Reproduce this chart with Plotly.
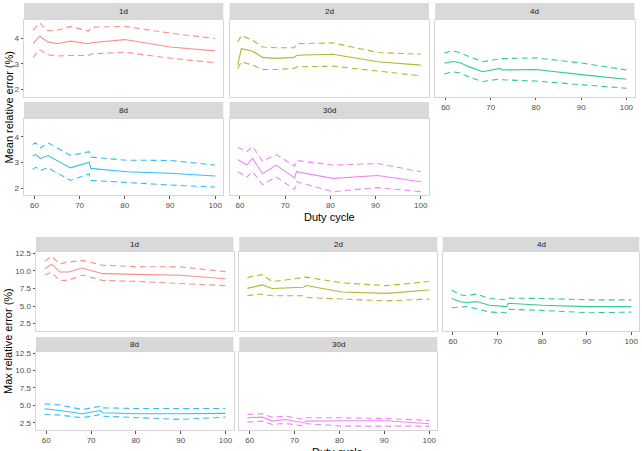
import plotly.graph_objects as go

# ---------------- data ----------------
WINDOWS = ["1d", "2d", "4d", "8d", "30d"]
COLORS = ["#F8766D", "#A3A500", "#00BF7D", "#00B0F6", "#E76BF3"]

duty_1d = [59.7, 61.2, 63.0, 65.0, 68.0, 72.0, 72.6, 80.0, 90.0, 100.0]
duty_2d = [59.5, 60.3, 62.8, 65.0, 68.0, 72.0, 72.6, 80.5, 90.5, 100.0]
duty_4d = [59.7, 61.6, 63.1, 65.3, 68.2, 72.0, 72.4, 80.0, 90.5, 100.0]
duty_8d = [59.6, 60.3, 61.3, 63.0, 68.0, 72.1, 72.5, 80.4, 90.0, 100.0]
duty_30d = [59.5, 61.5, 62.8, 65.0, 68.0, 72.1, 72.5, 80.5, 90.5, 100.0]

# Mean relative error (%)
mean_1d = [3.78, 4.07, 3.85, 3.78, 3.88, 3.78, 3.82, 3.94, 3.65, 3.50]
mean_1d_hi = [4.30, 4.58, 4.28, 4.30, 4.45, 4.27, 4.42, 4.45, 4.19, 3.98]
mean_1d_lo = [3.25, 3.55, 3.35, 3.30, 3.32, 3.32, 3.38, 3.45, 3.22, 3.04]
mean_2d = [2.95, 3.59, 3.49, 3.25, 3.21, 3.25, 3.33, 3.37, 3.08, 2.95]
mean_2d_hi = [3.85, 4.10, 3.91, 3.65, 3.62, 3.62, 3.78, 3.81, 3.44, 3.37]
mean_2d_lo = [2.82, 3.08, 2.95, 2.78, 2.78, 2.82, 2.88, 2.91, 2.72, 2.53]
mean_4d = [3.02, 3.09, 3.05, 2.88, 2.69, 2.82, 2.76, 2.78, 2.57, 2.40]
mean_4d_hi = [3.42, 3.50, 3.44, 3.27, 3.08, 3.21, 3.20, 3.23, 3.02, 2.76]
mean_4d_lo = [2.60, 2.69, 2.65, 2.48, 2.31, 2.41, 2.38, 2.33, 2.18, 2.05]
mean_8d = [3.25, 3.31, 3.16, 3.27, 2.79, 3.01, 2.77, 2.64, 2.58, 2.47]
mean_8d_hi = [3.70, 3.77, 3.57, 3.77, 3.28, 3.42, 3.21, 3.09, 3.08, 2.90]
mean_8d_lo = [2.73, 2.82, 2.69, 2.79, 2.30, 2.56, 2.30, 2.21, 2.12, 2.04]
mean_30d = [3.12, 2.90, 3.16, 2.56, 2.90, 2.40, 2.64, 2.38, 2.49, 2.25]
mean_30d_hi = [3.60, 3.42, 3.63, 3.05, 3.31, 2.86, 3.08, 2.90, 2.96, 2.64]
mean_30d_lo = [2.64, 2.43, 2.64, 2.14, 2.43, 1.95, 2.25, 1.86, 2.02, 1.86]

# Max relative error (%)
max_1d = [10.30, 10.95, 9.83, 9.83, 10.41, 9.75, 9.60, 9.50, 9.38, 8.88]
max_1d_hi = [11.40, 12.05, 11.00, 11.24, 11.49, 10.90, 10.80, 10.60, 10.56, 9.89]
max_1d_lo = [9.40, 9.79, 8.63, 8.67, 9.40, 8.70, 8.63, 8.50, 8.20, 7.90]
max_2d = [7.51, 7.65, 8.00, 7.50, 7.55, 7.66, 7.91, 7.00, 6.80, 7.28]
max_2d_hi = [8.97, 9.20, 9.46, 8.49, 8.70, 8.97, 9.11, 8.30, 7.90, 8.49]
max_2d_lo = [6.46, 6.55, 6.70, 6.46, 6.46, 6.46, 6.21, 5.98, 5.73, 5.98]
max_4d = [6.07, 5.60, 5.50, 5.63, 5.11, 4.91, 5.40, 5.11, 4.91, 4.91]
max_4d_hi = [7.28, 6.60, 6.46, 6.70, 6.07, 5.88, 6.12, 6.07, 5.88, 5.88]
max_4d_lo = [4.76, 4.85, 4.91, 4.62, 4.14, 4.04, 4.53, 4.38, 4.04, 4.14]
max_8d = [4.50, 4.45, 4.40, 4.25, 3.79, 4.26, 3.93, 3.79, 3.79, 3.85]
max_8d_hi = [5.21, 5.18, 5.12, 5.05, 4.40, 4.87, 4.64, 4.54, 4.54, 4.54]
max_8d_lo = [3.69, 3.67, 3.64, 3.60, 3.21, 3.69, 3.44, 3.21, 2.97, 3.30]
max_30d = [3.21, 3.25, 3.30, 2.73, 2.97, 2.50, 2.73, 2.79, 2.79, 2.36]
max_30d_hi = [3.69, 3.75, 3.79, 3.30, 3.44, 2.97, 3.21, 3.21, 3.10, 2.83]
max_30d_lo = [2.59, 2.66, 2.73, 2.26, 2.40, 2.01, 2.36, 2.01, 2.01, 2.01]

X_TICKS = [60, 70, 80, 90, 100]
MEAN_TICKS = [2, 3, 4]
MAX_TICKS = [2.5, 5.0, 7.5, 10.0, 12.5]
MAX_TICK_LABELS = ["2.5", "5.0", "7.5", "10.0", "12.5"]

DUTY = {"1d": duty_1d, "2d": duty_2d, "4d": duty_4d, "8d": duty_8d, "30d": duty_30d}
MEAN = {
    "1d": (mean_1d, mean_1d_hi, mean_1d_lo),
    "2d": (mean_2d, mean_2d_hi, mean_2d_lo),
    "4d": (mean_4d, mean_4d_hi, mean_4d_lo),
    "8d": (mean_8d, mean_8d_hi, mean_8d_lo),
    "30d": (mean_30d, mean_30d_hi, mean_30d_lo),
}
MAX = {
    "1d": (max_1d, max_1d_hi, max_1d_lo),
    "2d": (max_2d, max_2d_hi, max_2d_lo),
    "4d": (max_4d, max_4d_hi, max_4d_lo),
    "8d": (max_8d, max_8d_hi, max_8d_lo),
    "30d": (max_30d, max_30d_hi, max_30d_lo),
}

# ---------------- layout helpers ----------------
W, H = 642, 451


def fx(p):
    return p / W


def fy(p):
    return 1 - p / H


FONT = "Liberation Sans, Arial, sans-serif"
TICK_COLOR = "#4D4D4D"
BORDER = "#D6D6D6"
STRIP = "#D9D9D9"

charts = [
    dict(
        data=MEAN,
        cols=[(24, 223.3), (229.6, 428.9), (435.2, 634.5)],
        rows=[((20, 96.5), (3, 20)), ((119, 195), (102, 119))],
        yrange=[1.73, 4.70],
        yticks=MEAN_TICKS,
        yticklabels=[str(t) for t in MEAN_TICKS],
        ytitle="Mean relative error (%)",
        ytitle_pos=(8, 107.5),
        xtitle_pos=(329, 217),
    ),
    dict(
        data=MAX,
        cols=[(36, 233.5), (239.3, 437.3), (442.7, 639.3)],
        rows=[((252, 331), (237, 252)), ((352, 430), (337, 352))],
        yrange=[1.45, 12.68],
        yticks=MAX_TICKS,
        yticklabels=MAX_TICK_LABELS,
        ytitle="Max relative error (%)",
        ytitle_pos=(8, 341),
        xtitle_pos=(337.5, 452),
    ),
]

positions = {"1d": (0, 0), "2d": (0, 1), "4d": (0, 2), "8d": (1, 0), "30d": (1, 1)}
show_x = {"4d", "8d", "30d"}

fig = go.Figure()
layout = {}
shapes = []
annotations = []
k = 0
for ch in charts:
    for wi, win in enumerate(WINDOWS):
        k += 1
        r, c = positions[win]
        (py0, py1), (sy0, sy1) = ch["rows"][r]
        cx0, cx1 = ch["cols"][c]
        xa = "x" if k == 1 else f"x{k}"
        ya = "y" if k == 1 else f"y{k}"
        xkey = "xaxis" if k == 1 else f"xaxis{k}"
        ykey = "yaxis" if k == 1 else f"yaxis{k}"
        mid, hi, lo = ch["data"][win]
        xs = DUTY[win]
        col = COLORS[wi]
        for vals, dash in ((hi, "6px,4px"), (lo, "6px,4px"), (mid, "solid")):
            fig.add_trace(go.Scatter(
                x=xs, y=vals, xaxis=xa, yaxis=ya, mode="lines",
                line=dict(color=col, width=1.1, dash=dash),
                opacity=0.8, showlegend=False, hoverinfo="skip",
            ))
        layout[xkey] = dict(
            domain=[fx(cx0), fx(cx1)], anchor=ya, range=[57.7, 101.8],
            tickvals=X_TICKS, ticktext=[str(t) for t in X_TICKS],
            showticklabels=win in show_x,
            ticks="outside" if win in show_x else "", ticklen=2.5, tickwidth=0.8,
            tickcolor="#555555",
            tickfont=dict(family=FONT, size=8, color=TICK_COLOR),
            showgrid=False, zeroline=False, showline=True, mirror=True,
            linecolor=BORDER, linewidth=1, automargin=False, fixedrange=True,
        )
        layout[ykey] = dict(
            domain=[fy(py1), fy(py0)], anchor=xa, range=ch["yrange"],
            tickvals=ch["yticks"], ticktext=ch["yticklabels"],
            showticklabels=(c == 0),
            ticks="outside" if c == 0 else "", ticklen=2.5, tickwidth=0.8,
            tickcolor="#555555",
            tickfont=dict(family=FONT, size=8, color=TICK_COLOR),
            showgrid=False, zeroline=False, showline=True, mirror=True,
            linecolor=BORDER, linewidth=1, automargin=False, fixedrange=True,
        )
        shapes.append(dict(
            type="rect", xref="paper", yref="paper",
            x0=fx(cx0), x1=fx(cx1), y0=fy(sy1), y1=fy(sy0),
            fillcolor=STRIP, line=dict(width=0), layer="below",
        ))
        annotations.append(dict(
            text=win, xref="paper", yref="paper",
            x=fx((cx0 + cx1) / 2), y=fy((sy0 + sy1) / 2),
            xanchor="center", yanchor="middle", showarrow=False,
            font=dict(family=FONT, size=8, color="#1A1A1A"),
        ))
    tx, ty = ch["ytitle_pos"]
    annotations.append(dict(
        text=ch["ytitle"], xref="paper", yref="paper", x=fx(tx), y=fy(ty),
        xanchor="center", yanchor="middle", showarrow=False, textangle=-90,
        font=dict(family=FONT, size=11, color="#000000"),
    ))
    dx, dy = ch["xtitle_pos"]
    annotations.append(dict(
        text="Duty cycle", xref="paper", yref="paper", x=fx(dx), y=fy(dy),
        xanchor="center", yanchor="middle", showarrow=False,
        font=dict(family=FONT, size=11, color="#000000"),
    ))

fig.update_layout(
    width=W, height=H, margin=dict(l=0, r=0, t=0, b=0),
    paper_bgcolor="white", plot_bgcolor="white",
    shapes=shapes, annotations=annotations, showlegend=False,
    **layout,
)
fig.write_html("out.html", config={"displayModeBar": False})
